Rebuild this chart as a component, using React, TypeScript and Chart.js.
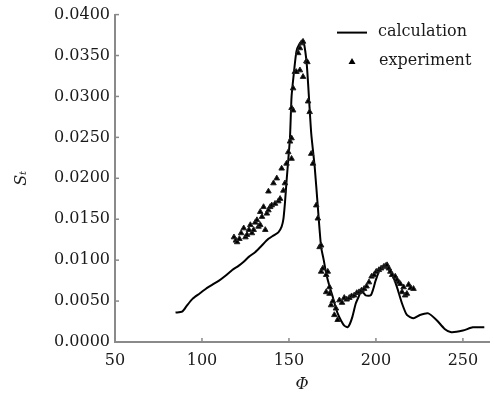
import React, { useEffect, useRef } from "react";
import { Chart, registerables } from "chart.js";

Chart.register(...registerables);

// ---- data ----
const calcPhi = [
  84.8, 88.6, 91.5, 94.7, 98.5, 102.3, 106, 109.8, 113.5, 117.4, 121, 124, 126.9, 130.7, 134, 138.2, 141,
  143.9, 145.8, 146.8, 147.7, 148.6, 149.7, 150.6, 151.5, 152.8, 154.3, 156, 158.1, 160, 161, 162.8, 164.8,
  166.6, 167.5, 168.5, 170, 171.4, 173.3, 175.2, 176.5, 178, 180, 181.8, 183.7, 185, 186.5, 188.4, 190,
  191.3, 192.8, 194.1, 197, 198.5, 199.8, 202.6, 205.5, 208.3, 210.2, 212.1, 215, 217.8, 221.6, 225.3,
  230.1, 234.8, 239.5, 243.3, 250, 255.7, 262.3,
];
const calcSt = [
  0.0036, 0.0037, 0.0045, 0.0053, 0.0059, 0.0065, 0.007, 0.0075, 0.0081, 0.0088, 0.0093, 0.0098, 0.0104,
  0.011, 0.0117, 0.0126, 0.013, 0.0134, 0.0141, 0.015, 0.017, 0.0196, 0.0225, 0.025, 0.03, 0.0328, 0.0355,
  0.0364, 0.0369, 0.0345, 0.0316, 0.0255, 0.0214, 0.0165, 0.014, 0.0116, 0.01, 0.0084, 0.0068, 0.0055,
  0.0045, 0.0035, 0.0026, 0.002, 0.0018, 0.0022, 0.0031, 0.0047, 0.0055, 0.0061, 0.006, 0.0057, 0.0057,
  0.0065, 0.0075, 0.009, 0.0092, 0.0086, 0.0078, 0.0067, 0.0047, 0.0033, 0.0029, 0.0033, 0.0035, 0.0027,
  0.0016, 0.0012, 0.0014, 0.0018, 0.0018,
];
const expPhi = [
  118.4, 119.5, 120.2, 121.5, 122.5, 124.0, 125.0, 125.9, 127.0, 127.8, 128.7, 129.7, 130.6, 131.6, 132.5,
  133.5, 133.5, 134.5, 135.4, 136.4, 137.3, 138.2, 138.2, 139.2, 140.1, 141.1, 142.0, 143.0, 143.9, 144.9,
  145.8, 146.8, 147.7, 148.6, 149.6, 150.6, 151.5, 151.5, 151.5, 152.4, 152.4, 153.4, 154.3, 155.3, 156.3,
  156.3, 157.2, 158.1, 158.1, 160.0, 160.6, 161.0, 161.9, 162.8, 163.8, 165.7, 166.6, 167.6, 168.5, 168.5,
  169.5, 171.4, 171.4, 172.3, 173.3, 173.3, 174.2, 175.2, 176.1, 177.0, 178.0, 179.0, 180.5, 181.8, 183.2,
  184.7, 186.0, 187.5, 189.0, 190.3, 191.7, 193.2, 194.6, 196.0, 197.5, 198.9, 200.2, 201.7, 203.0, 204.5,
  205.5, 206.4, 207.4, 208.3, 209.3, 211.1, 212.1, 213.1, 214.0, 215.0, 215.9, 216.8, 217.8, 218.8, 220.0,
  221.6,
];
const expSt = [
  0.0128, 0.0124, 0.0122, 0.0126, 0.0133, 0.0139, 0.0128, 0.0131, 0.0137, 0.0143, 0.0133, 0.0137, 0.0146,
  0.0149, 0.0141, 0.0159, 0.0143, 0.0153, 0.0165, 0.0137, 0.0157, 0.0161, 0.0184, 0.0165, 0.0167, 0.0194,
  0.0169, 0.02, 0.0172, 0.0175, 0.0212, 0.0185, 0.0194, 0.0218, 0.0232, 0.0245, 0.0224, 0.0249, 0.0286,
  0.0283, 0.031, 0.033, 0.033, 0.0353, 0.0359, 0.0332, 0.0365, 0.0367, 0.0324, 0.0343, 0.0342, 0.0294,
  0.0281, 0.023, 0.0218, 0.0167, 0.0151, 0.0116, 0.0118, 0.0086, 0.009, 0.0082, 0.0061, 0.0086, 0.0067,
  0.0059, 0.0045, 0.005, 0.0033, 0.0041, 0.0027, 0.0051, 0.0048, 0.0054, 0.0052, 0.0054, 0.0056, 0.0057,
  0.006, 0.0061, 0.0063, 0.0065, 0.0068, 0.0073, 0.008, 0.0082, 0.0086, 0.0088, 0.009, 0.0092, 0.0093,
  0.0094, 0.009, 0.0086, 0.0082, 0.008, 0.0076, 0.0073, 0.0071, 0.0061, 0.0067, 0.0057, 0.0059, 0.007,
  0.0066, 0.0065,
];
const xTicks = [50, 100, 150, 200, 250];
const yTicks = [0, 0.005, 0.01, 0.015, 0.02, 0.025, 0.03, 0.035, 0.04];
const seriesLabels = ["calculation", "experiment"];
const xTitle = "\u03A6";
const yTitle = "S\u209C";

const FONT = "'DejaVu Serif', serif";
const AXIS = "#8a8a8a";
const TEXT = "#1a1a1a";

export default function App() {
  const ref = useRef<HTMLCanvasElement>(null);

  useEffect(() => {
    document.body.style.margin = "0";
    const canvas = ref.current;
    if (!canvas) return;

    const inwardTicks = {
      id: "inwardTicks",
      afterDraw(chart: any) {
        const { ctx, chartArea, scales } = chart;
        ctx.save();
        ctx.strokeStyle = AXIS;
        ctx.lineWidth = 1.5;
        for (const v of xTicks) {
          if (v === xTicks[0]) continue;
          const px = scales.x.getPixelForValue(v);
          ctx.beginPath();
          ctx.moveTo(px, chartArea.bottom);
          ctx.lineTo(px, chartArea.bottom - 4);
          ctx.stroke();
        }
        for (const v of yTicks) {
          if (v === yTicks[0]) continue;
          const py = scales.y.getPixelForValue(v);
          ctx.beginPath();
          ctx.moveTo(chartArea.left, py);
          ctx.lineTo(chartArea.left + 4, py);
          ctx.stroke();
        }
        ctx.restore();
      },
    };

    const legendPlugin = {
      id: "customLegend",
      afterDraw(chart: any) {
        const { ctx, chartArea } = chart;
        const r = chartArea.right;
        const t = chartArea.top;
        ctx.save();
        ctx.font = `16px ${FONT}`;
        ctx.fillStyle = TEXT;
        ctx.textBaseline = "middle";
        // line sample
        ctx.strokeStyle = "#000";
        ctx.lineWidth = 2;
        ctx.beginPath();
        ctx.moveTo(r - 152, t + 18);
        ctx.lineTo(r - 122, t + 18);
        ctx.stroke();
        ctx.fillText(chart.data.datasets[0].label, r - 111, t + 17);
        // triangle sample
        const cx = r - 137;
        const cy = t + 47;
        ctx.fillStyle = "#000";
        ctx.beginPath();
        ctx.moveTo(cx, cy - 3.5);
        ctx.lineTo(cx + 3.5, cy + 2.5);
        ctx.lineTo(cx - 3.5, cy + 2.5);
        ctx.closePath();
        ctx.fill();
        ctx.fillStyle = TEXT;
        ctx.fillText(chart.data.datasets[1].label, r - 110, t + 46);
        ctx.restore();
      },
    };

    const chart = new Chart(canvas, {
      type: "line",
      data: {
        datasets: [
          {
            type: "line",
            label: seriesLabels[0],
            data: calcPhi.map((x, i) => ({ x, y: calcSt[i] })),
            borderColor: "#000",
            borderWidth: 2,
            pointRadius: 0,
            tension: 0.2,
            fill: false,
            order: 2,
          },
          {
            type: "scatter",
            label: seriesLabels[1],
            data: expPhi.map((x, i) => ({ x, y: expSt[i] })),
            pointStyle: "triangle",
            pointRadius: 3.2,
            backgroundColor: "#000",
            borderColor: "#222",
            borderWidth: 1,
            showLine: false,
            order: 1,
          } as any,
        ],
      },
      options: {
        responsive: false,
        maintainAspectRatio: false,
        animation: false,
        layout: { padding: { top: 14, right: 1, left: 0, bottom: 0 } },
        plugins: {
          legend: { display: false },
          tooltip: { enabled: false },
        },
        scales: {
          x: {
            type: "linear",
            min: 50,
            max: 265,
            afterBuildTicks: (s: any) => {
              s.ticks = xTicks.map((value) => ({ value }));
            },
            afterFit: (s: any) => {
              s.height = 52;
            },
            grid: { display: false, drawTicks: false },
            border: { display: true, color: AXIS, width: 2 },
            ticks: {
              color: TEXT,
              font: { family: FONT, size: 16 },
              padding: 9,
              maxRotation: 0,
              autoSkip: false,
            },
            title: {
              display: true,
              text: xTitle,
              color: TEXT,
              font: { family: FONT, size: 16, style: "italic" },
              padding: { top: 0, bottom: 0 },
            },
          },
          y: {
            type: "linear",
            min: 0,
            max: 0.04,
            afterBuildTicks: (s: any) => {
              s.ticks = yTicks.map((value) => ({ value }));
            },
            afterFit: (s: any) => {
              s.width = 115;
            },
            grid: { display: false, drawTicks: false },
            border: { display: true, color: AXIS, width: 2 },
            ticks: {
              color: TEXT,
              font: { family: FONT, size: 16 },
              padding: 5,
              autoSkip: false,
              callback: (v: any) => Number(v).toFixed(4),
            },
            title: {
              display: true,
              text: yTitle,
              color: TEXT,
              font: { family: FONT, size: 16, style: "italic" },
              padding: { top: 12, bottom: 0 },
            },
          },
        },
      },
      plugins: [inwardTicks, legendPlugin],
    });

    return () => chart.destroy();
  }, []);

  return <canvas ref={ref} width={494} height={394} style={{ display: "block" }} />;
}
